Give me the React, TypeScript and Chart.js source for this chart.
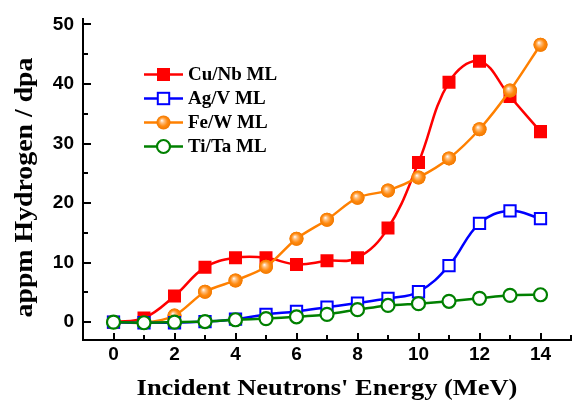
import { useEffect, useRef } from "react";
import { Chart, registerables } from "chart.js";

Chart.register(...registerables);

// ---- data ----
const energy = [0, 1, 2, 3, 4, 5, 6, 7, 8, 9, 10, 11, 12, 13, 14];
const cuNb = [0, 0.7, 4.4, 9.2, 10.8, 10.8, 9.7, 10.3, 10.8, 15.8, 26.8, 40.3, 43.8, 37.9, 32.0];
const agV = [0, -0.1, -0.1, 0.1, 0.5, 1.3, 1.8, 2.5, 3.2, 4.0, 5.1, 9.5, 16.6, 18.7, 17.4];
const feW = [0, -0.1, 1.1, 5.1, 7.0, 9.3, 14.0, 17.2, 20.9, 22.1, 24.3, 27.5, 32.4, 38.9, 46.6];
const tiTa = [0, -0.1, 0, 0.1, 0.4, 0.6, 0.9, 1.3, 2.1, 2.8, 3.1, 3.5, 4.0, 4.5, 4.6];

const seriesLabels = ["Cu/Nb ML", "Ag/V ML", "Fe/W ML", "Ti/Ta ML"];
const xTickValues = [0, 2, 4, 6, 8, 10, 12, 14];
const xMinorTicks = [1, 3, 5, 7, 9, 11, 13, 15];
const yTickValues = [0, 10, 20, 30, 40, 50];
const yMinorTicks = [5, 15, 25, 35, 45];
const xTitle = "Incident Neutrons' Energy (MeV)";
const yTitle = "appm Hydrogen / dpa";

const RED = "#ff0000";
const BLUE = "#0000ff";
const ORANGE = "#ff8000";
const GREEN = "#008000";

function sphereFill(ctx: CanvasRenderingContext2D, x: number, y: number, r: number) {
  const g = ctx.createRadialGradient(x - r * 0.25, y - r * 0.3, 0, x, y, r);
  g.addColorStop(0, "#ffffff");
  g.addColorStop(0.28, "#ffc080");
  g.addColorStop(0.65, "#ff8a10");
  g.addColorStop(1, "#f07800");
  return g;
}

const toPts = (arr: number[]) => energy.map((e, i) => ({ x: e, y: arr[i] }));

const sphereIndex = 2;

const decorPlugin = {
  id: "decor",
  afterDatasetDraw(chart: any, args: any) {
    if (args.index !== sphereIndex) return;
    const { ctx } = chart;
    const meta = chart.getDatasetMeta(sphereIndex);
    ctx.save();
    for (const el of meta.data) {
      const x = el.x;
      const y = el.y;
      if (!isFinite(x) || !isFinite(y)) continue;
      ctx.fillStyle = sphereFill(ctx, x, y, 7);
      ctx.beginPath();
      ctx.arc(x, y, 7, 0, Math.PI * 2);
      ctx.fill();
    }
    ctx.restore();
  },
  afterDraw(chart: any) {
    const { ctx, chartArea, scales } = chart;
    const xs = scales.x;
    const ys = scales.y;
    ctx.save();
    // inward ticks
    ctx.strokeStyle = "#000";
    ctx.lineWidth = 2;
    ctx.beginPath();
    for (const v of yTickValues) {
      const p = Math.round(ys.getPixelForValue(v));
      ctx.moveTo(chartArea.left, p);
      ctx.lineTo(chartArea.left + 8, p);
    }
    for (const v of yMinorTicks) {
      const p = Math.round(ys.getPixelForValue(v));
      ctx.moveTo(chartArea.left, p);
      ctx.lineTo(chartArea.left + 5, p);
    }
    for (const v of xTickValues) {
      const p = Math.round(xs.getPixelForValue(v));
      ctx.moveTo(p, chartArea.bottom);
      ctx.lineTo(p, chartArea.bottom - 7);
    }
    for (const v of xMinorTicks) {
      const p = Math.round(xs.getPixelForValue(v));
      ctx.moveTo(p, chartArea.bottom);
      ctx.lineTo(p, chartArea.bottom - 5);
    }
    ctx.stroke();

    // legend
    const colors = [RED, BLUE, ORANGE, GREEN];
    const lx0 = chartArea.left + 61;
    const lx1 = chartArea.left + 100;
    const mx = chartArea.left + 80.5;
    const tx = chartArea.left + 105;
    const ty0 = chartArea.top + 56;
    seriesLabels.forEach((label, i) => {
      const y = ty0 + i * 24;
      ctx.strokeStyle = colors[i];
      ctx.lineWidth = 2.5;
      ctx.beginPath();
      ctx.moveTo(lx0, y);
      ctx.lineTo(lx1, y);
      ctx.stroke();
      if (i === 0) {
        ctx.fillStyle = RED;
        ctx.fillRect(mx - 6.5, y - 6.5, 13, 13);
      } else if (i === 1) {
        ctx.fillStyle = "#fff";
        ctx.fillRect(mx - 5.7, y - 5.7, 11.4, 11.4);
        ctx.strokeStyle = BLUE;
        ctx.lineWidth = 2;
        ctx.strokeRect(mx - 5.7, y - 5.7, 11.4, 11.4);
      } else if (i === 2) {
        ctx.fillStyle = sphereFill(ctx, mx, y, 7);
        ctx.beginPath();
        ctx.arc(mx, y, 7, 0, Math.PI * 2);
        ctx.fill();
      } else {
        ctx.fillStyle = "#fff";
        ctx.strokeStyle = GREEN;
        ctx.lineWidth = 2.2;
        ctx.beginPath();
        ctx.arc(mx, y, 6.5, 0, Math.PI * 2);
        ctx.fill();
        ctx.stroke();
      }
      ctx.fillStyle = "#000";
      ctx.font = "bold 19px 'Liberation Serif', 'Times New Roman', serif";
      ctx.textAlign = "left";
      ctx.textBaseline = "middle";
      ctx.fillText(label, tx, y + 1);
    });

    // axis titles
    ctx.fillStyle = "#000";
    ctx.font = "bold 23px 'Liberation Serif', 'Times New Roman', serif";
    ctx.textAlign = "center";
    ctx.textBaseline = "alphabetic";
    ctx.save();
    ctx.translate((chartArea.left + chartArea.right) / 2, 395);
    ctx.scale(1.15, 1);
    ctx.fillText(xTitle, 0, 0);
    ctx.restore();

    ctx.save();
    ctx.font = "bold 26px 'Liberation Serif', 'Times New Roman', serif";
    ctx.translate(32, 187.5);
    ctx.rotate(-Math.PI / 2);
    ctx.scale(1.07, 1);
    ctx.fillText(yTitle, 0, 0);
    ctx.restore();

    ctx.restore();
  },
};

export default function App() {
  const ref = useRef<HTMLCanvasElement | null>(null);

  useEffect(() => {
    if (!ref.current) return;
    const tickFont = { family: "'Liberation Sans', Arial, sans-serif", size: 19, weight: "bold" as const, lineHeight: 1 };
    const chart = new Chart(ref.current, {
      type: "line",
      data: {
        datasets: [
          {
            label: seriesLabels[0],
            data: toPts(cuNb),
            borderColor: RED,
            backgroundColor: RED,
            borderWidth: 2.5,
            tension: 0.4,
            pointStyle: "rect",
            pointRadius: 9.2,
            pointBorderWidth: 0,
            pointBackgroundColor: RED,
            order: 4,
          },
          {
            label: seriesLabels[1],
            data: toPts(agV),
            borderColor: BLUE,
            backgroundColor: "#fff",
            borderWidth: 2.5,
            tension: 0.4,
            pointStyle: "rect",
            pointRadius: 8,
            pointBorderWidth: 2,
            pointBorderColor: BLUE,
            pointBackgroundColor: "#fff",
            order: 2,
          },
          {
            label: seriesLabels[2],
            data: toPts(feW),
            borderColor: ORANGE,
            backgroundColor: ORANGE,
            borderWidth: 2.5,
            tension: 0.3,
            pointStyle: "circle",
            pointRadius: 7,
            pointBorderWidth: 0,
            pointBackgroundColor: ORANGE,
            order: 3,
          },
          {
            label: seriesLabels[3],
            data: toPts(tiTa),
            borderColor: GREEN,
            backgroundColor: "#fff",
            borderWidth: 2.5,
            tension: 0.2,
            pointStyle: "circle",
            pointRadius: 6.5,
            pointBorderWidth: 2.2,
            pointBorderColor: GREEN,
            pointBackgroundColor: "#fff",
            order: 1,
          },
        ],
      },
      options: {
        responsive: false,
        animation: false,
        devicePixelRatio: 1,
        layout: { padding: { top: 12, right: 4, left: 0, bottom: 0 } },
        plugins: { legend: { display: false }, tooltip: { enabled: false } },
        scales: {
          x: {
            type: "linear",
            min: -1,
            max: 15,
            grid: { display: false, drawTicks: false, tickLength: 0 },
            border: { display: true, color: "#000", width: 2 },
            afterBuildTicks: (s: any) => {
              s.ticks = xTickValues.map((v) => ({ value: v }));
            },
            afterFit: (s: any) => {
              s.height = 63;
            },
            ticks: {
              autoSkip: false,
              maxRotation: 0,
              padding: 5,
              color: "#000",
              font: tickFont,
              callback: (v: any) => String(v),
            },
          },
          y: {
            type: "linear",
            min: -3,
            max: 51,
            grid: { display: false, drawTicks: false, tickLength: 0 },
            border: { display: true, color: "#000", width: 2 },
            afterBuildTicks: (s: any) => {
              s.ticks = yTickValues.map((v) => ({ value: v }));
            },
            afterFit: (s: any) => {
              s.width = 83;
            },
            ticks: {
              autoSkip: false,
              padding: 9,
              color: "#000",
              font: tickFont,
              callback: (v: any) => String(v),
            },
          },
        },
      },
      plugins: [decorPlugin],
    });
    return () => chart.destroy();
  }, []);

  return (
    <div style={{ position: "absolute", left: 0, top: 0, width: 581, height: 403, background: "#fff" }}>
      <canvas ref={ref} width={581} height={403} style={{ display: "block" }} />
    </div>
  );
}
